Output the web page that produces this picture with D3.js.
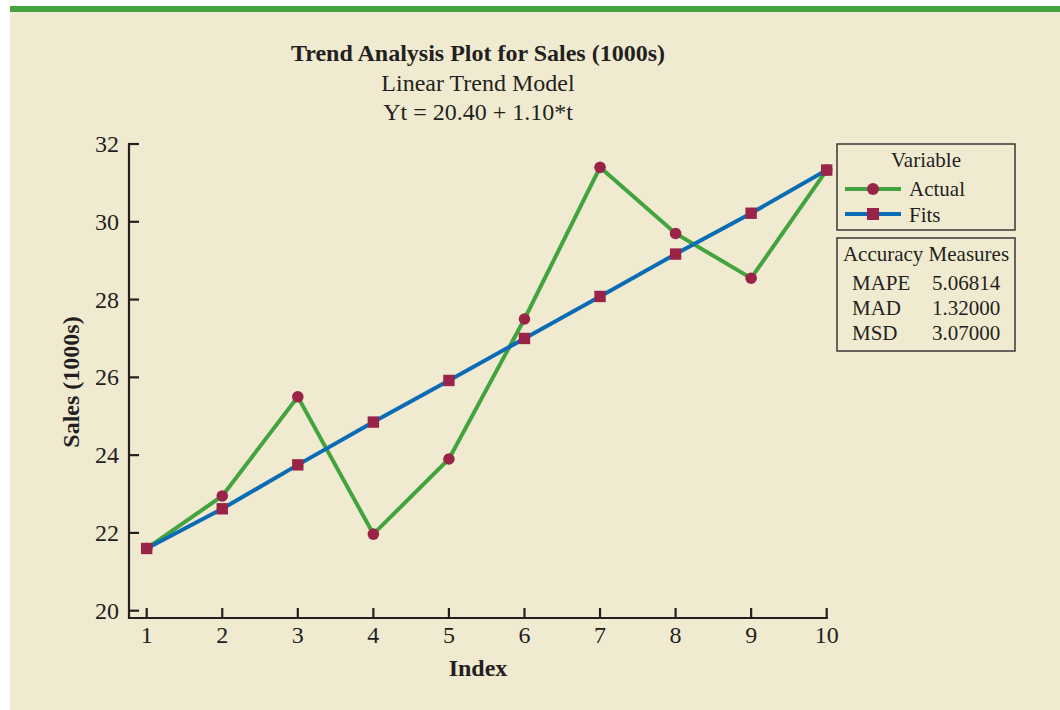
<!DOCTYPE html>
<html><head><meta charset="utf-8">
<script src="https://cdn.jsdelivr.net/npm/d3@7"></script>
<style>body{margin:0;background:#fff}svg{display:block}text{font-family:"Liberation Serif","Times New Roman",serif;fill:#231f20}</style>
</head><body><svg id="c" width="1060" height="710"></svg>
<script>
const index = [1,2,3,4,5,6,7,8,9,10];
const actual = [21.6, 22.95, 25.5, 21.97, 23.9, 27.5, 31.4, 29.7, 28.55, 31.33];
const fits = [21.6, 22.62, 23.75, 24.85, 25.92, 27.0, 28.08, 29.17, 30.22, 31.33];
const yTicks = [20,22,24,26,28,30,32];
const xTicks = [1,2,3,4,5,6,7,8,9,10];
const accLabels = ["MAPE","MAD","MSD"];
const accValues = ["5.06814","1.32000","3.07000"];

const svg = d3.select("#c");
const GREEN="#43a33f", BLUE="#0b6cb5", MARK="#9a2448", INK="#231f20";
svg.append("rect").attr("x",10).attr("y",6).attr("width",1050).attr("height",704).attr("fill","#f0ebd0");
svg.append("rect").attr("x",10).attr("y",6).attr("width",1050).attr("height",6).attr("fill",GREEN);

const x = d3.scaleLinear().domain([1,10]).range([146.7,826.7]);
const y = d3.scaleLinear().domain([20,32]).range([610.7,144]);

// titles
svg.append("text").attr("x",478).attr("y",61).attr("text-anchor","middle").attr("font-size",24).attr("font-weight","bold").text("Trend Analysis Plot for Sales (1000s)");
svg.append("text").attr("x",478).attr("y",91).attr("text-anchor","middle").attr("font-size",24).text("Linear Trend Model");
svg.append("text").attr("x",478).attr("y",120).attr("text-anchor","middle").attr("font-size",24).text("Yt = 20.40 + 1.10*t");

// axes
const ax = svg.append("g").attr("stroke",INK).attr("stroke-width",2.2);
ax.append("line").attr("x1",129).attr("x2",129).attr("y1",143).attr("y2",619);
ax.append("line").attr("x1",128).attr("x2",827.8).attr("y1",618).attr("y2",618);
ax.selectAll(".yt").data(yTicks).join("line").attr("x1",129).attr("x2",139).attr("y1",d=>y(d)).attr("y2",d=>y(d));
ax.selectAll(".xt").data(xTicks).join("line").attr("x1",d=>x(d)).attr("x2",d=>x(d)).attr("y1",618).attr("y2",608);
svg.selectAll(".yl").data(yTicks).join("text").attr("x",119).attr("y",d=>y(d)+8).attr("text-anchor","end").attr("font-size",24).text(d=>d);
svg.selectAll(".xl").data(xTicks).join("text").attr("x",d=>x(d)).attr("y",643).attr("text-anchor","middle").attr("font-size",24).text(d=>d);
svg.append("text").attr("x",478).attr("y",676).attr("text-anchor","middle").attr("font-size",24).attr("font-weight","bold").text("Index");
svg.append("text").attr("transform","translate(79,382) rotate(-90)").attr("text-anchor","middle").attr("font-size",24).attr("font-weight","bold").text("Sales (1000s)");

// lines
const line = d3.line().x((d,i)=>x(index[i])).y(d=>y(d));
svg.append("path").datum(actual).attr("d",line).attr("fill","none").attr("stroke",GREEN).attr("stroke-width",4);
svg.append("path").datum(fits).attr("d",line).attr("fill","none").attr("stroke",BLUE).attr("stroke-width",4);
svg.selectAll(".ac").data(actual).join("circle").attr("cx",(d,i)=>x(index[i])).attr("cy",d=>y(d)).attr("r",5.8).attr("fill",MARK);
svg.selectAll(".fs").data(fits).join("rect").attr("x",(d,i)=>x(index[i])-5.7).attr("y",d=>y(d)-5.7).attr("width",11.4).attr("height",11.4).attr("fill",MARK);

// legend
const lg = svg.append("g");
lg.append("rect").attr("x",837).attr("y",144).attr("width",178).attr("height",86).attr("fill","none").attr("stroke","#3a3636").attr("stroke-width",1.5);
lg.append("text").attr("x",926).attr("y",167).attr("text-anchor","middle").attr("font-size",21).text("Variable");
lg.append("line").attr("x1",845).attr("x2",901).attr("y1",189).attr("y2",189).attr("stroke",GREEN).attr("stroke-width",4);
lg.append("circle").attr("cx",873).attr("cy",189).attr("r",6).attr("fill",MARK);
lg.append("text").attr("x",909).attr("y",196).attr("font-size",21).text("Actual");
lg.append("line").attr("x1",845).attr("x2",901).attr("y1",214).attr("y2",214).attr("stroke",BLUE).attr("stroke-width",4);
lg.append("rect").attr("x",867).attr("y",208).attr("width",12).attr("height",12).attr("fill",MARK);
lg.append("text").attr("x",909).attr("y",222).attr("font-size",21).text("Fits");

const ac = svg.append("g");
ac.append("rect").attr("x",837).attr("y",238).attr("width",178).attr("height",113).attr("fill","none").attr("stroke","#3a3636").attr("stroke-width",1.5);
ac.append("text").attr("x",926).attr("y",261).attr("text-anchor","middle").attr("font-size",21).text("Accuracy Measures");
ac.selectAll(".al").data(accLabels).join("text").attr("x",852).attr("y",(d,i)=>290+i*25).attr("font-size",21).text(d=>d);
ac.selectAll(".av").data(accValues).join("text").attr("x",932).attr("y",(d,i)=>290+i*25).attr("font-size",21).text(d=>d);
</script></body></html>
